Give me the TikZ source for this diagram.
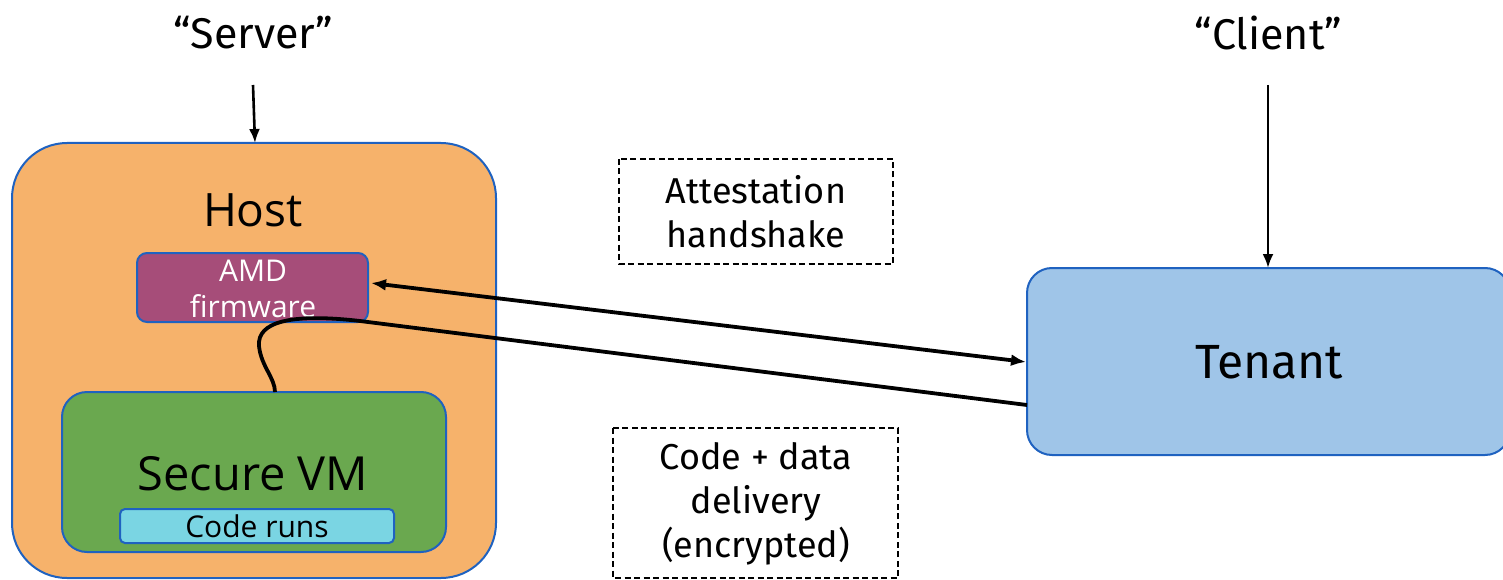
\documentclass[tikz,border=0pt]{standalone}
\usepackage{fontspec}
\setmainfont{Fira Sans}
\newfontfamily\segoe{Open Sans}
\usetikzlibrary{arrows.meta}
\definecolor{hostorange}{HTML}{F6B26B}
\definecolor{fwpurple}{HTML}{A64D79}
\definecolor{vmgreen}{HTML}{6AA84F}
\definecolor{codecyan}{HTML}{7AD5E3}
\definecolor{tenantblue}{HTML}{9FC5E8}
\definecolor{edgeblue}{HTML}{1F62C0}
\tikzset{
  box/.style={draw=edgeblue, line width=2pt},
  dashbox/.style={draw=black, line width=1.8pt, dash pattern=on 6pt off 3.5pt},
  thick arrow/.style={line width=3.8pt, {Latex[length=15pt,width=12pt]}-{Latex[length=15pt,width=12pt]}},
  thin arrow/.style={line width=2.6pt, -{Latex[length=14pt,width=11pt]}}
}
\begin{document}
\begin{tikzpicture}[x=1pt,y=-1pt]
\useasboundingbox (0,0) rectangle (1503,580);
% titles
\node[font=\fontsize{43}{48}\selectfont] (server) at (253,33) {“Server”};
\node[font=\fontsize{43}{48}\selectfont] (client) at (1268,33) {“Client”};
% host
\draw[box, fill=hostorange, rounded corners=55pt] (12,143) rectangle (496,578);
\coordinate (hosttop) at (255,143);
\node[font=\segoe\fontsize{46}{52}\selectfont] (host) at (253,210) {Host};
% firmware
\draw[box, fill=fwpurple, rounded corners=10pt] (137,253) rectangle (368,322);
\coordinate (fweast) at (371,283);
\node[font=\segoe\fontsize{30}{36}\selectfont, text=white, align=center] (fwtext) at (253,289) {AMD\\firmware};
% secure VM
\draw[box, fill=vmgreen, rounded corners=25pt] (62,392) rectangle (446,552);
\coordinate (vmtop) at (275,392);
\node[font=\segoe\fontsize{47}{52}\selectfont] (vm) at (253,474) {Secure VM};
\draw[box, fill=codecyan, rounded corners=5pt] (120,509) rectangle (394,543);
\node[font=\segoe\fontsize{30}{34}\selectfont] (code) at (257,526) {Code runs};
% tenant
\draw[box, fill=tenantblue, rounded corners=25pt] (1027,268) rectangle (1510,455);
\coordinate (tenanttop) at (1268,268);
\coordinate (tenantin) at (1026,362);
\coordinate (tenantout) at (1027,405);
\node[font=\fontsize{48}{54}\selectfont] (tenant) at (1269,362) {Tenant};
% dashed labels
\draw[dashbox] (619,159) rectangle (893,264);
\node[font=\fontsize{36}{44}\selectfont, align=center] (att) at (756,212) {Attestation\\handshake};
\draw[dashbox] (613,428) rectangle (898,578);
\node[font=\fontsize{36}{44}\selectfont, align=center] (cd) at (756,504) {Code + data\\delivery\\(encrypted)};
% connectors
\coordinate (serverfoot) at (253,85);
\coordinate (clientfoot) at (1268,85);
\draw[thin arrow] (serverfoot) -- (hosttop);
\draw[thin arrow] (clientfoot) -- (tenanttop);
\draw[thick arrow] (fweast) -- (tenantin);
\draw[line width=3.8pt] (tenantout) -- (360,321) .. controls (290,313) and (257,322) .. (259,346) .. controls (261,366) and (275,378) .. (vmtop);
\end{tikzpicture}
\end{document}
